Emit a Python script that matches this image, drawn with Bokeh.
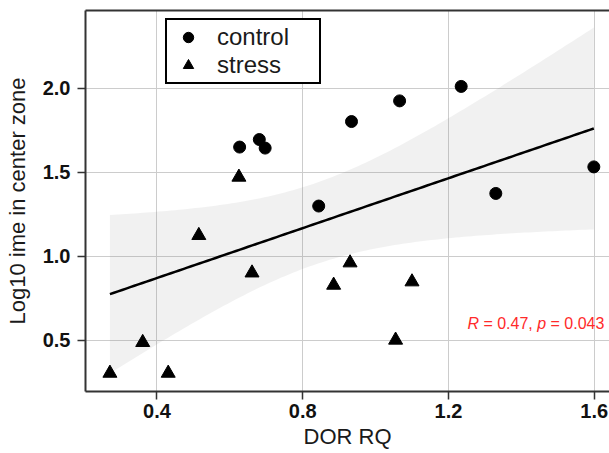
import numpy as np
from bokeh.plotting import figure
from bokeh.models import (Legend, LegendItem, LinearAxis, FixedTicker,
                          PrintfTickFormatter, Label, Range1d)
from bokeh.embed import file_html
from bokeh.resources import INLINE

# DOR RQ vs log10 time in center zone, per group
dor_control = [0.627, 0.681, 0.697, 0.934, 1.066, 1.235, 0.844, 1.330, 1.599]
log_control = [1.651, 1.696, 1.645, 1.803, 1.926, 2.012, 1.300, 1.375, 1.533]
dor_stress = [0.625, 0.515, 0.661, 0.930, 0.885, 1.100, 1.055, 0.361, 0.271, 0.431]
log_stress = [1.472, 1.125, 0.902, 0.962, 0.829, 0.849, 0.502, 0.488, 0.305, 0.305]

x_ticks = [0.4, 0.8, 1.2, 1.6]
y_ticks = [0.5, 1.0, 1.5, 2.0]
cor_r = "0.47"
cor_p = "0.043"

FONT = "Liberation Sans"
NBSP = "\u00a0"

# Pooled linear fit with 95% confidence band
x_all = np.array(dor_control + dor_stress)
y_all = np.array(log_control + log_stress)
n = len(x_all)
slope, intercept = np.polyfit(x_all, y_all, 1)
xs = np.linspace(x_all.min(), x_all.max(), 120)
fit = intercept + slope * xs
resid = y_all - (intercept + slope * x_all)
s = np.sqrt(np.sum(resid ** 2) / (n - 2))
sxx = np.sum((x_all - x_all.mean()) ** 2)
se = s * np.sqrt(1.0 / n + (xs - x_all.mean()) ** 2 / sxx)
T975 = 2.1098  # t quantile, df = 17
lower = fit - T975 * se
upper = fit + T975 * se

p = figure(width=609, height=453,
           x_range=Range1d(0.204, 1.642), y_range=Range1d(0.196, 2.464),
           output_backend="svg", toolbar_location=None,
           min_border_left=85, min_border_right=0,
           min_border_top=10, min_border_bottom=62,
           background_fill_color="white", border_fill_color="white",
           outline_line_color=None)

# grid
p.xgrid.ticker = FixedTicker(ticks=x_ticks)
p.ygrid.ticker = FixedTicker(ticks=y_ticks)
p.grid.grid_line_color = "#cccccc"
p.grid.grid_line_width = 1

# axes
for ax, ticks in ((p.xaxis, x_ticks), (p.yaxis, y_ticks)):
    ax.ticker = FixedTicker(ticks=ticks)
    ax.formatter = PrintfTickFormatter(format="%.1f")
    ax.minor_tick_line_color = None
    ax.major_tick_in = 0
    ax.major_tick_out = 8
    ax.major_tick_line_color = "#333333"
    ax.major_tick_line_width = 1.5
    ax.axis_line_color = "#333333"
    ax.axis_line_width = 2
    ax.major_label_text_font = FONT
    ax.major_label_text_font_style = "bold"
    ax.major_label_text_font_size = "20px"
    ax.major_label_text_color = "#111111"
    ax.axis_label_text_font = FONT
    ax.axis_label_text_font_style = "normal"
    ax.axis_label_text_font_size = "22px"
    ax.axis_label_text_color = "#1a1a1a"

p.xaxis.axis_label = "DOR RQ"
p.yaxis.axis_label = "Log10 ime in center zone"
p.xaxis.major_label_standoff = 4
p.xaxis.axis_label_standoff = 3
p.yaxis.major_label_standoff = 7
p.yaxis.axis_label_standoff = 10

# top border of the panel
top = LinearAxis(ticker=FixedTicker(ticks=[]), axis_line_color="#333333",
                 axis_line_width=2, major_tick_line_color=None,
                 minor_tick_line_color=None, major_label_text_font_size="0px",
                 major_label_standoff=0)
p.add_layout(top, "above")

# confidence band and regression line
p.varea(x=xs, y1=lower, y2=upper, fill_color="#808080", fill_alpha=0.11)
p.line(xs, fit, line_color="black", line_width=2.5)

# points
r_ctrl = p.scatter(dor_control, log_control, marker="circle", size=12,
                   fill_color="black", line_color="black")
r_str = p.scatter(dor_stress, log_stress, marker="triangle", size=14,
                  fill_color="black", line_color="black")

legend = Legend(items=[LegendItem(label="control", renderers=[r_ctrl]),
                       LegendItem(label="stress", renderers=[r_str])],
                location=(80, 307), margin=0, padding=3, spacing=0,
                glyph_width=36, glyph_height=26, label_height=26,
                label_width=99, label_standoff=11,
                label_text_font=FONT, label_text_font_size="24px",
                label_text_color="#1a1a1a",
                border_line_color="black", border_line_width=2,
                border_line_alpha=1.0,
                background_fill_color="white", background_fill_alpha=1)
p.add_layout(legend)

# correlation annotation
ann_x, ann_y = 1.252, 0.598
parts = [("R", "italic", 0.0),
         (NBSP + "=" + NBSP + cor_r + "," + NBSP, "normal", 11.55),
         ("p", "italic", 69.85),
         (NBSP + "=" + NBSP + cor_p, "normal", 78.75)]
for txt, style, off in parts:
    p.add_layout(Label(x=ann_x, y=ann_y, x_offset=off, text=txt,
                       text_font=FONT, text_font_style=style,
                       text_font_size="16px", text_color="#ff2a2a",
                       text_baseline="alphabetic", text_align="left"))

open("out.html", "w").write(file_html(p, INLINE))
